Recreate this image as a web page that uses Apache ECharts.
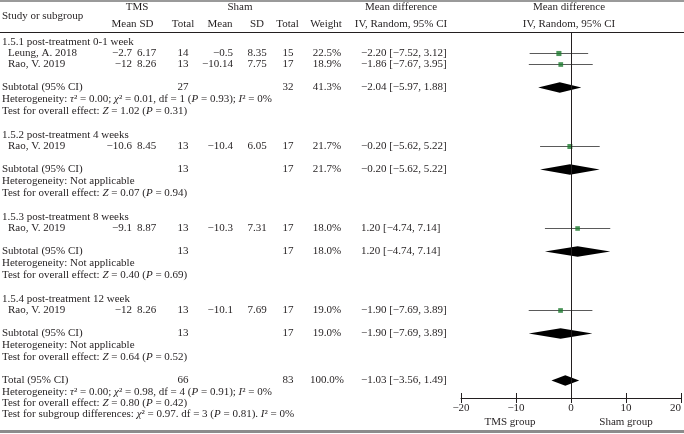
<!DOCTYPE html>
<html><head><meta charset="utf-8">
<script src="https://cdn.jsdelivr.net/npm/echarts@6/dist/echarts.min.js"></script>
<style>html,body{margin:0;padding:0;background:#fff}#c{width:684px;height:434px}</style>
</head><body><div id="c"></div>
<script>
// ---------------- data ----------------
const groupNames = ['1.5.1 post-treatment 0-1 week','1.5.2 post-treatment 4 weeks','1.5.3 post-treatment 8 weeks','1.5.4 post-treatment 12 week'];
const studyNames = [['Leung, A. 2018','Rao, V. 2019'],['Rao, V. 2019'],['Rao, V. 2019'],['Rao, V. 2019']];
const tmsMean = [[-2.7,-12],[-10.6],[-9.1],[-12]];
const tmsSD = [[6.17,8.26],[8.45],[8.87],[8.26]];
const tmsN = [[14,13],[13],[13],[13]];
const shamMean = [[-0.5,-10.14],[-10.4],[-10.3],[-10.1]];
const shamSD = [[8.35,7.75],[6.05],[7.31],[7.69]];
const shamN = [[15,17],[17],[17],[17]];
const studyWeight = [[22.5,18.9],[21.7],[18.0],[19.0]];
const studyMD = [[-2.20,-1.86],[-0.20],[1.20],[-1.90]];
const studyLo = [[-7.52,-7.67],[-5.62],[-4.74],[-7.69]];
const studyHi = [[3.12,3.95],[5.22],[7.14],[3.89]];
const subTmsN = [27,13,13,13];
const subShamN = [32,17,17,17];
const subWeight = [41.3,21.7,18.0,19.0];
const subMD = [-2.04,-0.20,1.20,-1.90];
const subLo = [-5.97,-5.62,-4.74,-7.69];
const subHi = [1.88,5.22,7.14,3.89];
const hetTau2 = [0.00,null,null,null];
const hetChi2 = [0.01,null,null,null];
const hetDf = [1,null,null,null];
const hetP = [0.93,null,null,null];
const hetI2 = [0,null,null,null];
const subZ = [1.02,0.07,0.40,0.64];
const subP = [0.31,0.94,0.69,0.52];
const totalTmsN = 66, totalShamN = 83, totalWeight = 100.0;
const totalMD = -1.03, totalLo = -3.56, totalHi = 1.49;
const totalTau2 = 0.00, totalChi2 = 0.98, totalDf = 4, totalHetP = 0.91, totalI2 = 0;
const totalZ = 0.80, totalP = 0.42;
const sgChi2 = 0.97, sgDf = 3, sgP = 0.81, sgI2 = 0;
const xTicks = [-20,-10,0,10,20];
const leftLabel = 'TMS group', rightLabel = 'Sham group';

// ---------------- style / layout ----------------
const FONT = 'Liberation Serif', FS = 11, TXT = '#231f20';
const COL = {label:2, study:8, tmsMean:132, tmsSD:146.5, tmsN:183, shamMean:233, shamSD:257, shamN:288, weight:327, md:361};
const els = [];
function txt(s, x, y, align) {
  els.push({type:'text', silent:true, style:{text:s, x:x, y:y, fill:TXT, fontFamily:FONT, fontSize:FS,
    align:align||'left', verticalAlign:'middle', textAlign:align||'left', textVerticalAlign:'middle',
    rich:{i:{fontStyle:'italic', fontFamily:FONT, fontSize:FS, fill:TXT}}}});
}
function hline(y, color, w) {
  els.push({type:'line', silent:true, shape:{x1:0,y1:y,x2:684,y2:y}, style:{stroke:color, lineWidth:w}});
}
const neg = v => (v < 0 ? '\u2212' : '') + Math.abs(v);
const f2 = v => (v < 0 ? '\u2212' : '') + Math.abs(v).toFixed(2);
const ci = (m, l, h) => f2(m) + ' [' + f2(l) + ', ' + f2(h) + ']';
const hetStr = (t, c, d, p, i) => 'Heterogeneity: {i|\u03c4}\u00b2 = ' + t.toFixed(2) + '; {i|\u03c7}\u00b2 = ' + c.toFixed(2) +
  ', df = ' + d + ' ({i|P} = ' + p.toFixed(2) + '); {i|I}\u00b2 = ' + i + '%';
const testStr = (z, p) => 'Test for overall effect: {i|Z} = ' + z.toFixed(2) + ' ({i|P} = ' + p.toFixed(2) + ')';

// header
hline(1, '#9a9a9a', 2);
txt('TMS', 137, 7, 'center');
txt('Sham', 240, 7, 'center');
txt('Mean difference', 401, 7, 'center');
txt('Mean difference', 569, 7, 'center');
txt('Study or subgroup', 2, 16, 'left');
const Y2 = 24;
txt('Mean', 124, Y2, 'center'); txt('SD', 146.5, Y2, 'center'); txt('Total', 183, Y2, 'center');
txt('Mean', 220, Y2, 'center'); txt('SD', 257, Y2, 'center'); txt('Total', 287.5, Y2, 'center');
txt('Weight', 326, Y2, 'center');
txt('IV, Random, 95% CI', 401, Y2, 'center');
txt('IV, Random, 95% CI', 569, Y2, 'center');
hline(32.5, '#231f20', 1);
hline(431.5, '#8c8c8c', 3);

// rows
const SP = {first:42, hdrStudy:11.5, studyStudy:11, studySub:23, line:12, nextHdr:23.5, toTotal:23, totLine:11.3};
const ciData = [], sqData = [], diaData = [];
let y = SP.first;
groupNames.forEach((g, gi) => {
  if (gi > 0) y += SP.nextHdr;
  txt(g, COL.label, y);
  studyNames[gi].forEach((s, si) => {
    y += si === 0 ? SP.hdrStudy : SP.studyStudy;
    txt(s, COL.study, y);
    txt(neg(tmsMean[gi][si]), COL.tmsMean, y, 'right');
    txt(String(tmsSD[gi][si]), COL.tmsSD, y, 'center');
    txt(String(tmsN[gi][si]), COL.tmsN, y, 'center');
    txt(neg(shamMean[gi][si]), COL.shamMean, y, 'right');
    txt(String(shamSD[gi][si]), COL.shamSD, y, 'center');
    txt(String(shamN[gi][si]), COL.shamN, y, 'center');
    txt(studyWeight[gi][si].toFixed(1) + '%', COL.weight, y, 'center');
    txt(ci(studyMD[gi][si], studyLo[gi][si], studyHi[gi][si]), COL.md, y);
    ciData.push([studyLo[gi][si], studyHi[gi][si], y]);
    sqData.push({value:[studyMD[gi][si], y], symbolSize: 2.6 + studyWeight[gi][si] / 9});
  });
  y += SP.studySub;
  txt('Subtotal (95% CI)', COL.label, y);
  txt(String(subTmsN[gi]), COL.tmsN, y, 'center');
  txt(String(subShamN[gi]), COL.shamN, y, 'center');
  txt(subWeight[gi].toFixed(1) + '%', COL.weight, y, 'center');
  txt(ci(subMD[gi], subLo[gi], subHi[gi]), COL.md, y);
  diaData.push([subMD[gi], subLo[gi], subHi[gi], y]);
  y += SP.line;
  txt(hetTau2[gi] === null ? 'Heterogeneity: Not applicable' : hetStr(hetTau2[gi], hetChi2[gi], hetDf[gi], hetP[gi], hetI2[gi]), COL.label, y);
  y += SP.line;
  txt(testStr(subZ[gi], subP[gi]), COL.label, y);
});
y += SP.toTotal;
txt('Total (95% CI)', COL.label, y);
txt(String(totalTmsN), COL.tmsN, y, 'center');
txt(String(totalShamN), COL.shamN, y, 'center');
txt(totalWeight.toFixed(1) + '%', COL.weight, y, 'center');
txt(ci(totalMD, totalLo, totalHi), COL.md, y);
diaData.push([totalMD, totalLo, totalHi, y]);
y += SP.totLine;
txt(hetStr(totalTau2, totalChi2, totalDf, totalHetP, totalI2), COL.label, y);
y += SP.totLine;
txt(testStr(totalZ, totalP), COL.label, y);
y += SP.totLine;
txt('Test for subgroup differences: {i|\u03c7}\u00b2 = ' + sgChi2.toFixed(2) + '. df = ' + sgDf + ' ({i|P} = ' + sgP.toFixed(2) + '). {i|I}\u00b2 = ' + sgI2 + '%', COL.label, y);

txt(leftLabel, 510, 422, 'center');
txt(rightLabel, 626, 422, 'center');

// ---------------- chart ----------------
const GRID = {left:461, right:1, top:32, bottom:36};
const yMin = GRID.top, yMax = 434 - GRID.bottom;
const chart = echarts.init(document.getElementById('c'), null, {renderer:'canvas'});
const axisCommon = {type:'value', min:xTicks[0], max:xTicks[xTicks.length-1], interval:xTicks[1]-xTicks[0], splitLine:{show:false}, position:'bottom'};
chart.setOption({
  animation:false,
  backgroundColor:'#fff',
  grid:GRID,
  xAxis:[
    Object.assign({}, axisCommon, {
      axisLine:{show:true, lineStyle:{color:'#231f20', width:1}},
      axisTick:{show:true, length:5, lineStyle:{color:'#231f20'}},
      axisLabel:{show:true, margin:5, color:TXT, fontFamily:FONT, fontSize:FS, alignMaxLabel:'right',
        formatter: v => (v < 0 ? '\u2212' : '') + Math.abs(v)}
    }),
    Object.assign({}, axisCommon, {
      offset:0,
      axisLine:{show:false},
      axisTick:{show:true, inside:true, length:5, lineStyle:{color:'#231f20'}},
      axisLabel:{show:false}
    })
  ],
  yAxis:{type:'value', min:yMin, max:yMax, inverse:true, show:false},
  graphic:{elements:els},
  series:[
    {
      type:'custom', xAxisIndex:0, data:ciData, encode:{x:[0,1], y:2}, z:3, silent:true,
      renderItem:(p, api) => {
        const a = api.coord([api.value(0), api.value(2)]);
        const b = api.coord([api.value(1), api.value(2)]);
        return {type:'line', shape:{x1:a[0], y1:a[1], x2:b[0], y2:b[1]}, style:{stroke:'#5a5a5a', lineWidth:1}};
      },
      markLine:{silent:true, symbol:['none','none'], label:{show:false}, data:[{xAxis:0}],
        lineStyle:{color:'#231f20', width:1, type:'solid'}}
    },
    {
      type:'scatter', xAxisIndex:0, data:sqData, symbol:'rect', z:4, silent:true,
      itemStyle:{color:'#1d7a2e'}
    },
    {
      type:'custom', xAxisIndex:0, data:diaData, encode:{x:[0,1,2], y:3}, z:4, silent:true,
      renderItem:(p, api) => {
        const c = api.coord([api.value(0), api.value(3)]);
        const l = api.coord([api.value(1), api.value(3)]);
        const r = api.coord([api.value(2), api.value(3)]);
        const h = 5.3;
        return {type:'polygon', shape:{points:[[l[0],c[1]],[c[0],c[1]-h],[r[0],c[1]],[c[0],c[1]+h]]}, style:{fill:'#000'}};
      }
    }
  ]
});
</script>
</body></html>
